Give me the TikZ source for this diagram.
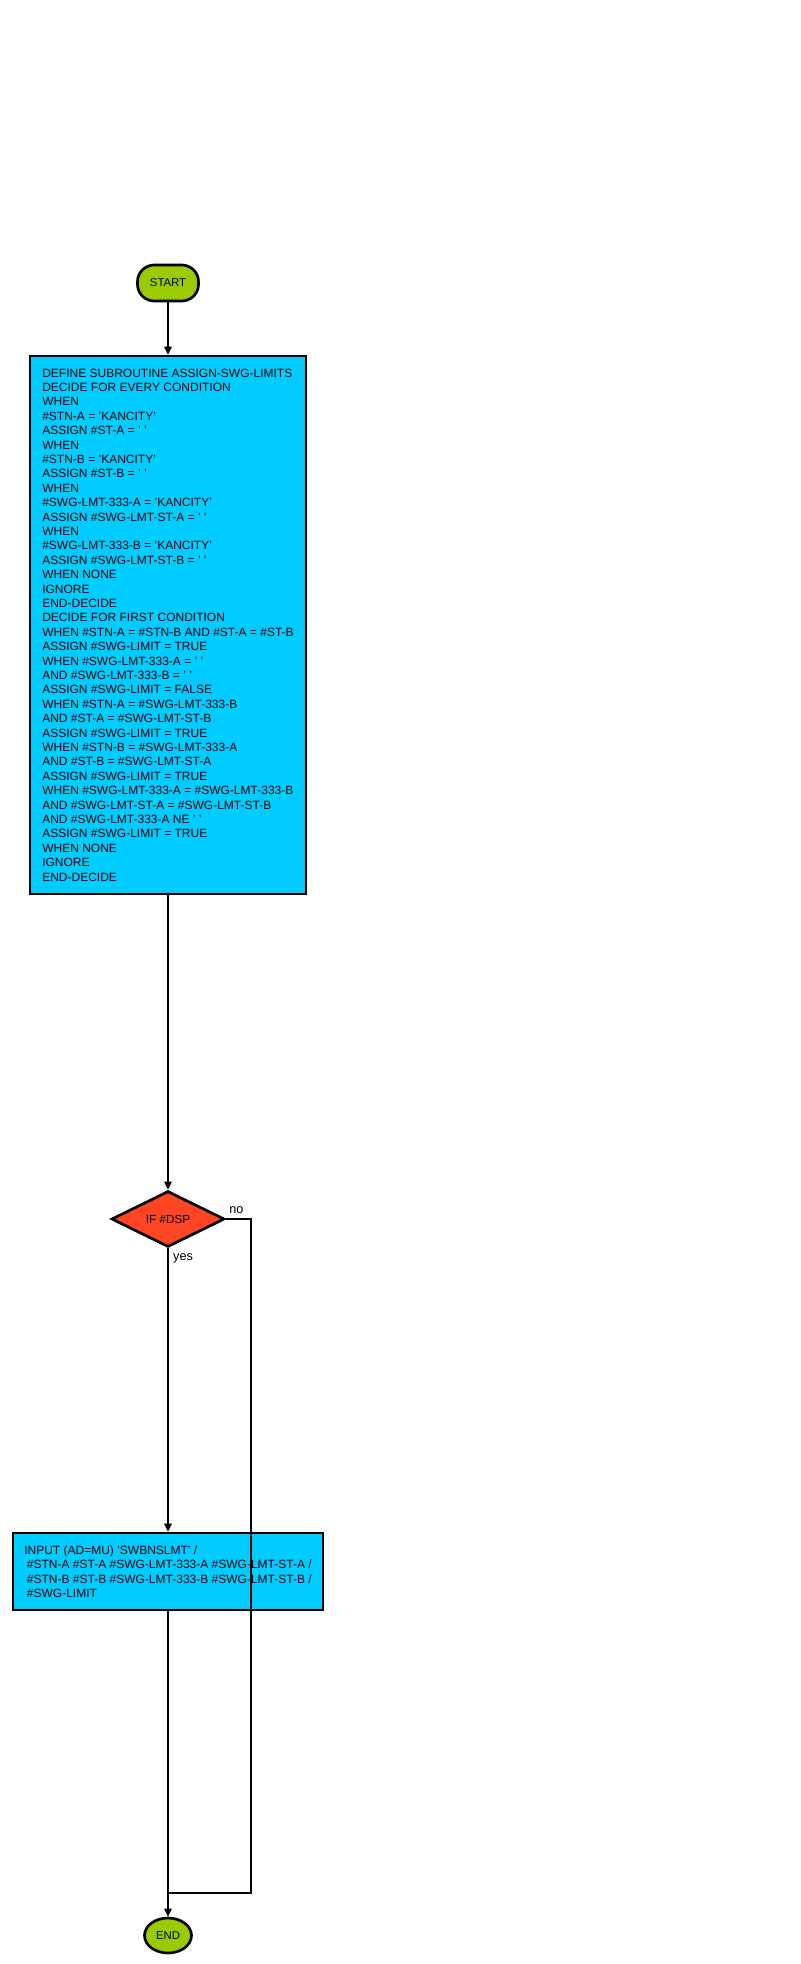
\documentclass[tikz,border=0pt]{standalone}
\usepackage{fontspec}
\setmainfont{Liberation Sans}
\usetikzlibrary{shapes.geometric,arrows.meta}
\definecolor{termgreen}{RGB}{153,204,0}
\definecolor{boxcyan}{RGB}{0,204,255}
\definecolor{decred}{RGB}{255,69,34}
\tikzset{
  terminal/.style={draw=black,line width=2pt,fill=termgreen,font=\fontsize{8.5}{9.5}\selectfont,inner sep=0pt},
  procbox/.style={draw=black,line width=2pt,fill=boxcyan,align=left,inner sep=0pt,font=\fontsize{9}{10.8}\selectfont},
  decision/.style={diamond,draw=black,line width=2pt,fill=decred,inner sep=0pt,minimum width=84.75pt,minimum height=42pt,font=\fontsize{8.8}{9.5}\selectfont},
  flow/.style={line width=1.8pt,-{Triangle[length=6pt,width=5.5pt]}},
  plainflow/.style={line width=1.8pt},
  lbl/.style={font=\fontsize{9.5}{10.5}\selectfont,inner sep=0pt}
}
\begin{document}
\begin{tikzpicture}[x=0.75pt,y=-0.75pt]
\useasboundingbox (0,0) rectangle (800,1964);
\fill[white] (0,0) rectangle (800,1964);
\node[terminal,rectangle,rounded corners=12.5pt,minimum width=45.75pt,minimum height=27pt] (start) at (168,283) {START};
\node[procbox,rectangle,minimum width=207pt,minimum height=403.5pt] (define) at (168,625) {DEFINE SUBROUTINE ASSIGN-SWG-LIMITS\\
DECIDE FOR EVERY CONDITION\\
WHEN\\
\#STN-A = 'KANCITY'\\
ASSIGN \#ST-A = ' '\\
WHEN\\
\#STN-B = 'KANCITY'\\
ASSIGN \#ST-B = ' '\\
WHEN\\
\#SWG-LMT-333-A = 'KANCITY'\\
ASSIGN \#SWG-LMT-ST-A = ' '\\
WHEN\\
\#SWG-LMT-333-B = 'KANCITY'\\
ASSIGN \#SWG-LMT-ST-B = ' '\\
WHEN NONE\\
IGNORE\\
END-DECIDE\\
DECIDE FOR FIRST CONDITION\\
WHEN \#STN-A = \#STN-B AND \#ST-A = \#ST-B\\
ASSIGN \#SWG-LIMIT = TRUE\\
WHEN \#SWG-LMT-333-A = ' '\\
AND \#SWG-LMT-333-B = ' '\\
ASSIGN \#SWG-LIMIT = FALSE\\
WHEN \#STN-A = \#SWG-LMT-333-B\\
AND \#ST-A = \#SWG-LMT-ST-B\\
ASSIGN \#SWG-LIMIT = TRUE\\
WHEN \#STN-B = \#SWG-LMT-333-A\\
AND \#ST-B = \#SWG-LMT-ST-A\\
ASSIGN \#SWG-LIMIT = TRUE\\
WHEN \#SWG-LMT-333-A = \#SWG-LMT-333-B\\
AND \#SWG-LMT-ST-A = \#SWG-LMT-ST-B\\
AND \#SWG-LMT-333-A NE ' '\\
ASSIGN \#SWG-LIMIT = TRUE\\
WHEN NONE\\
IGNORE\\
END-DECIDE};
\node[decision] (dsp) at (168,1219) {IF \#DSP};
\node[procbox,rectangle,minimum width=232.5pt,minimum height=57.75pt] (input) at (168,1571.5) {INPUT (AD=MU) 'SWBNSLMT' /\\
\hspace*{2pt}\#STN-A \#ST-A \#SWG-LMT-333-A \#SWG-LMT-ST-A /\\
\hspace*{2pt}\#STN-B \#ST-B \#SWG-LMT-333-B \#SWG-LMT-ST-B /\\
\hspace*{2pt}\#SWG-LIMIT};
\node[terminal,ellipse,minimum width=35.25pt,minimum height=26.25pt] (end) at (168,1935.5) {END};
\coordinate (join) at (168,1893);
\draw[flow] (start) -- (define);
\draw[flow] (define) -- (dsp);
\draw[flow] (dsp) -- (input) node[lbl,pos=0,anchor=north west,xshift=3pt,yshift=-3pt] {yes};
\draw[flow] (input) -- (end);
\draw[plainflow] (dsp.east) -- ++(25,0) |- (join);
\node[lbl,anchor=south west] (nolbl) at (229,1214) {no};
\end{tikzpicture}
\end{document}
